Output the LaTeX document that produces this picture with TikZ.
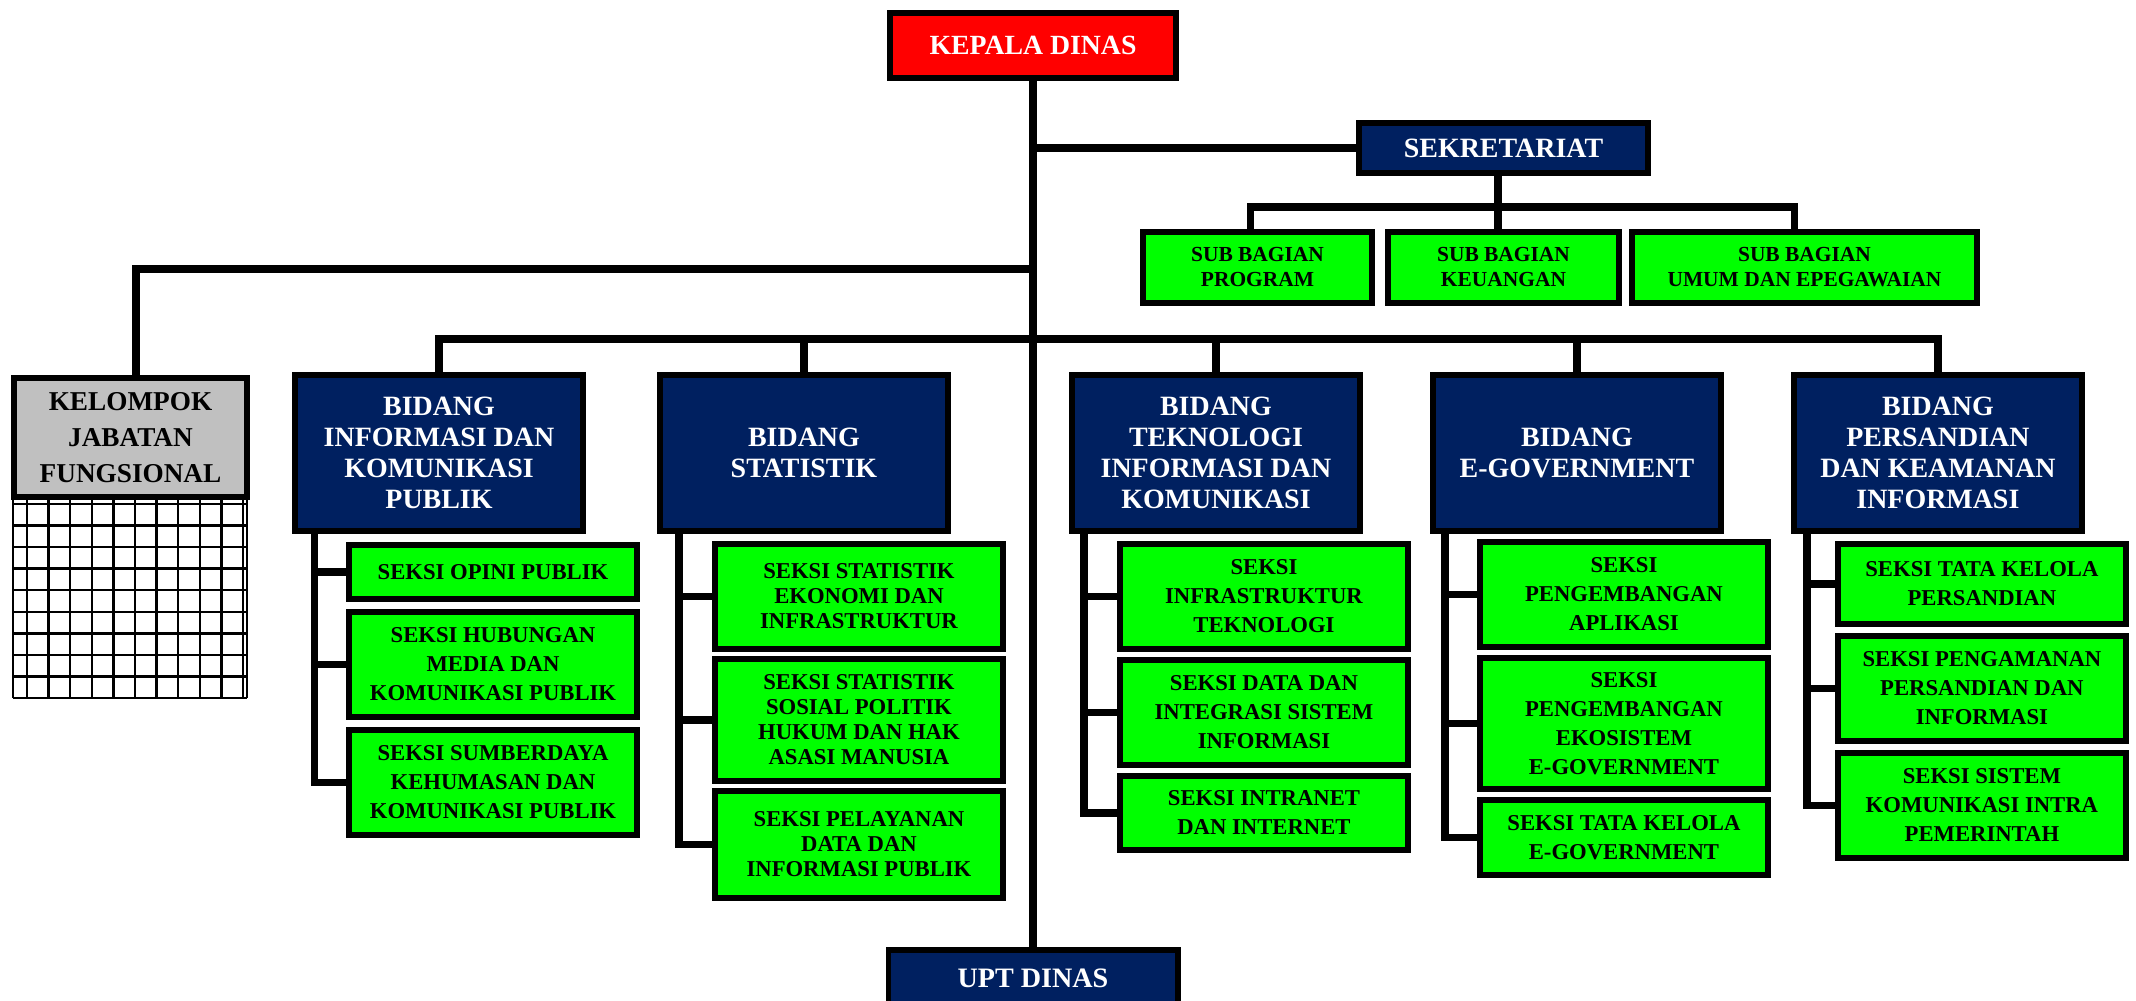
\documentclass[tikz,border=0pt]{standalone}
\usepackage{fontspec}
\setmainfont{Liberation Serif}
\usepackage{xcolor}
\usepackage{tikz}
\usetikzlibrary{positioning}

\definecolor{kadisred}{RGB}{255,0,0}
\definecolor{unitblue}{RGB}{0,32,96}
\definecolor{seksigreen}{RGB}{0,255,0}
\definecolor{fungsigray}{RGB}{192,192,192}

\begin{document}
\begin{tikzpicture}[node distance=0.14cm, auto,
    kadis/.style={rectangle, draw, line width=3.4pt, fill=kadisred, text=white, align=center, minimum width=5.72cm, minimum height=1.3cm, font=\fontsize{15.8}{18}\selectfont\bfseries},
    unit/.style={rectangle, draw, line width=3.4pt, fill=unitblue, text=white, align=center, minimum width=5.76cm, minimum height=3.12cm, font=\fontsize{15.9}{17.6}\selectfont\bfseries},
    subbag/.style={rectangle, draw, line width=3.4pt, fill=seksigreen, align=center, minimum height=1.42cm, font=\fontsize{12.2}{14.2}\selectfont\bfseries},
    seksi/.style={rectangle, draw, line width=3.4pt, fill=seksigreen, align=center, minimum width=5.76cm, font=\fontsize{12.9}{16.5}\selectfont\bfseries},
    fungsi/.style={rectangle, draw, line width=3.4pt, fill=fungsigray, align=center, minimum width=4.66cm, minimum height=2.38cm, font=\fontsize{15.5}{20.6}\selectfont\bfseries},
    link/.style={line width=4.3pt},
    hatch/.style={line width=1.4pt}]

    \useasboundingbox (0,0) rectangle (42.72,-20);

    % pimpinan dan sekretariat
    \node[kadis] (kadis) at (20.66,-0.91) {KEPALA DINAS};
    \node[unit, minimum width=5.78cm, minimum height=1cm] (sekr) at (30.07,-2.96) {SEKRETARIAT};
    \node[subbag, minimum width=4.62cm, below=1.06cm of sekr] (keu) {SUB BAGIAN\\KEUANGAN};
    \node[subbag, minimum width=4.58cm, left=0.2cm of keu] (prog) {SUB BAGIAN\\PROGRAM};
    \node[subbag, minimum width=6.9cm, right=0.14cm of keu] (umum) {SUB BAGIAN\\UMUM DAN EPEGAWAIAN};

    % kelompok jabatan fungsional
    \foreach \i in {0,...,10}
        \draw[hatch] ({0.54+0.432*\i},-10) -- ({0.54+0.432*\i},-13.96);
    \foreach \j in {0,...,9}
        \draw[hatch] (0.26,{-10.08-0.431*\j}) -- (4.94,{-10.08-0.431*\j});
    \draw[hatch] (0.26,-10) -- (0.26,-13.96);
    \draw[hatch] (4.94,-10) -- (4.94,-13.96);
    \node[fungsi] (kjf) at (2.61,-8.75) {KELOMPOK\\JABATAN\\FUNGSIONAL};

    % bidang
    \node[unit] (ikp) at (8.78,-9.06) {BIDANG\\INFORMASI DAN\\KOMUNIKASI\\PUBLIK};
    \node[unit, right=1.42cm of ikp] (stat) {BIDANG\\STATISTIK};
    \node[unit, right=2.36cm of stat] (tik) {BIDANG\\TEKNOLOGI\\INFORMASI DAN\\KOMUNIKASI};
    \node[unit, right=1.34cm of tik] (egov) {BIDANG\\E-GOVERNMENT};
    \node[unit, right=1.34cm of egov] (pers) {BIDANG\\PERSANDIAN\\DAN KEAMANAN\\INFORMASI};

    % seksi
    \node[seksi, minimum height=1.08cm, below right=0.16cm and 1.08cm of ikp.south west] (opini) {SEKSI OPINI PUBLIK};
    \node[seksi, minimum height=2.1cm, below=of opini] (humas) {SEKSI HUBUNGAN\\MEDIA DAN\\KOMUNIKASI PUBLIK};
    \node[seksi, minimum height=2.1cm, below=of humas] (sdk) {SEKSI SUMBERDAYA\\KEHUMASAN DAN\\KOMUNIKASI PUBLIK};

    \node[seksi, minimum height=2.1cm, font=\fontsize{12.9}{14.2}\selectfont\bfseries, below right=0.14cm and 1.1cm of stat.south west] (ekon) {SEKSI STATISTIK\\EKONOMI DAN\\INFRASTRUKTUR};
    \node[seksi, minimum height=2.44cm, font=\fontsize{12.9}{14.2}\selectfont\bfseries, below=0.08cm of ekon] (sospol) {SEKSI STATISTIK\\SOSIAL POLITIK\\HUKUM DAN HAK\\ASASI MANUSIA};
    \node[seksi, minimum height=2.14cm, font=\fontsize{12.9}{14.2}\selectfont\bfseries, below=0.08cm of sospol] (pdip) {SEKSI PELAYANAN\\DATA DAN\\INFORMASI PUBLIK};

    \node[seksi, minimum height=2.1cm, below right=0.14cm and 0.96cm of tik.south west] (infra) {SEKSI\\INFRASTRUKTUR\\TEKNOLOGI};
    \node[seksi, minimum height=2.1cm, below=0.1cm of infra] (dis) {SEKSI DATA DAN\\INTEGRASI SISTEM\\INFORMASI};
    \node[seksi, minimum height=1.48cm, below=0.1cm of dis] (intra) {SEKSI INTRANET\\DAN INTERNET};

    \node[seksi, minimum height=2.1cm, below right=0.1cm and 0.94cm of egov.south west] (apl) {SEKSI\\PENGEMBANGAN\\APLIKASI};
    \node[seksi, minimum height=2.62cm, below=0.1cm of apl] (eko) {SEKSI\\PENGEMBANGAN\\EKOSISTEM\\E-GOVERNMENT};
    \node[seksi, minimum height=1.5cm, below=0.1cm of eko] (tkeg) {SEKSI TATA KELOLA\\E-GOVERNMENT};

    \node[seksi, minimum height=1.6cm, below right=0.14cm and 0.88cm of pers.south west] (tkp) {SEKSI TATA KELOLA\\PERSANDIAN};
    \node[seksi, minimum height=2.1cm, below=0.12cm of tkp] (ppi) {SEKSI PENGAMANAN\\PERSANDIAN DAN\\INFORMASI};
    \node[seksi, minimum height=2.1cm, below=0.12cm of ppi] (skip) {SEKSI SISTEM\\KOMUNIKASI INTRA\\PEMERINTAH};

    \node[unit, minimum width=5.78cm, minimum height=1.12cm, font=\fontsize{16}{18}\selectfont\bfseries] (upt) at (20.66,-19.56) {UPT DINAS};

    % garis komando
    \coordinate (sbus) at (29.96,-4.14);
    \coordinate (fbus) at (20.66,-5.38);
    \coordinate (bbus) at (20.66,-6.78);

    \draw[link] (kadis.south) -- (upt.north);
    \draw[link] (sekr.west) -- (sekr.west -| kadis.south);
    \draw[link] ([xshift=-0.11cm]sekr.south) -- ([xshift=-0.11cm]keu.north);
    \draw[link] ([xshift=-0.14cm]prog.north) |- (sbus) -| ([xshift=-0.2cm]umum.north);
    \draw[link] ([xshift=0.11cm]kjf.north) |- (fbus);
    \draw[link] (ikp.north) |- (bbus) -| (pers.north);
    \draw[link] (stat.north) -- (stat.north |- bbus);
    \draw[link] (tik.north) -- (tik.north |- bbus);
    \draw[link] (egov.north) -- (egov.north |- bbus);

    \coordinate (ikpv) at ([xshift=0.45cm]ikp.south west);
    \coordinate (statv) at ([xshift=0.44cm]stat.south west);
    \coordinate (tikv) at ([xshift=0.3cm]tik.south west);
    \coordinate (egovv) at ([xshift=0.3cm]egov.south west);
    \coordinate (persv) at ([xshift=0.32cm]pers.south west);

    \foreach \s in {opini,humas,sdk} \draw[link] (ikpv) |- (\s.west);
    \foreach \s in {ekon,sospol,pdip} \draw[link] (statv) |- (\s.west);
    \foreach \s in {infra,dis,intra} \draw[link] (tikv) |- (\s.west);
    \foreach \s in {apl,eko,tkeg} \draw[link] (egovv) |- (\s.west);
    \foreach \s in {tkp,ppi,skip} \draw[link] (persv) |- (\s.west);
\end{tikzpicture}
\end{document}
